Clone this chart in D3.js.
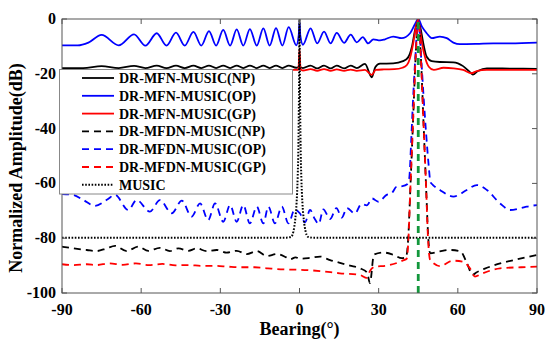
<!DOCTYPE html>
<html><head><meta charset="utf-8">
<script src="https://cdn.jsdelivr.net/npm/d3@7"></script>
<style>body{margin:0;background:#fff}svg{display:block}</style>
</head><body><svg id="c" width="550" height="343"></svg>
<script>
// ---- data (bearing in degrees, amplitude in dB) ----
const xTicks = [-90, -60, -30, 0, 30, 60, 90];
const yTicks = [0, -20, -40, -60, -80, -100];
const seriesNames = ["DR-MFN-MUSIC(NP)", "DR-MFN-MUSIC(OP)", "DR-MFN-MUSIC(GP)",
  "DR-MFDN-MUSIC(NP)", "DR-MFDN-MUSIC(OP)", "DR-MFDN-MUSIC(GP)", "MUSIC"];

const mfnNP = [[-90,-17.9],[-82,-17.9],[-75,-17.2],[-68.5,-17.9],[-62.7,-17.1],[-58.4,-17.9],[-54.1,-17.0],[-50.4,-17.9],
  [-46.8,-17.0],[-43.5,-17.9],[-40.2,-17.0],[-37.2,-17.9],[-34.3,-17.0],[-31.6,-17.9],[-28.9,-17.0],[-26.3,-17.9],
  [-23.8,-17.0],[-21.3,-17.9],[-18.8,-17.0],[-16.2,-17.9],[-13.7,-17.0],[-11.3,-17.9],[-8.9,-17.0],[-6.5,-17.9],
  [-4.1,-17.0],[-1.2,-17.8],[0,-17.5],[1.3,-17.9],[4.2,-17.0],[6.7,-18.0],[9.3,-17.0],[11.8,-18.0],[14.1,-17.0],
  [16.9,-18.0],[19.4,-17.0],[21.7,-17.9],[24.8,-16.4],[27.4,-21.3],[28.7,-17.6],[30.5,-16.3],[35.5,-16.2],
  [39.2,-15.4],[41.1,-14.1],[42.6,-10.1],[43.8,-4.0],[45,0],[45.8,-3],[46.9,-8.8],[48.2,-13.8],[50.1,-15.4],
  [53.2,-15.7],[58.3,-15.8],[62,-17.2],[64.6,-19.4],[65.7,-20.3],[67.6,-19.0],[71,-18.0],[80,-18.1],[90,-18.2]];

const mfnOP = [[-90,-9.6],[-84,-9.6],[-80,-8.6],[-75,-5.8],[-68.5,-9.6],[-62.7,-5.6],[-58.4,-9.7],[-54.1,-5.2],
  [-50.4,-9.7],[-46.8,-5.0],[-43.5,-9.7],[-40.2,-4.7],[-37.2,-9.7],[-34.3,-4.4],[-31.6,-9.7],[-28.9,-4.0],
  [-26.3,-9.7],[-23.8,-3.8],[-21.3,-9.7],[-18.8,-3.7],[-16.2,-9.7],[-13.7,-3.4],[-11.3,-9.7],[-8.9,-3.3],
  [-6.5,-9.7],[-4.1,-3.0],[-1.2,-9.6],[-0.3,-6],[0,-1],[0.3,-6],[1.3,-9.4],[4.2,-3.4],[6.7,-8.9],[9.3,-4.6],
  [11.8,-8.9],[14.1,-5.1],[16.9,-8.7],[19.4,-5.7],[21.7,-8.5],[24,-6.6],[26,-8.9],[28,-7.4],[30.5,-7.8],
  [32.4,-7.4],[35.5,-6.4],[38.7,-7.0],[41.9,-5.2],[43.8,-1.8],[45,0],[46.4,-2.8],[48.2,-5.2],[50.1,-7.0],
  [53.2,-6.4],[55.8,-7.0],[58.3,-8.6],[60.8,-9.2],[67,-9.1],[73.4,-8.9],[80,-8.9],[90,-8.6]];

const mfnGP = [[-90,-18.6],[-1,-18.6],[-0.4,-18.4],[0,-11],[0.4,-18.4],[1.3,-18.8],[4.2,-18.3],[6.7,-18.9],
  [9.3,-18.3],[11.8,-18.9],[14.1,-18.4],[16.9,-18.9],[19.4,-18.5],[21.7,-18.9],[24.8,-18.6],[27.4,-20.4],
  [28.9,-18.6],[32,-18.4],[36,-18.3],[39,-17.8],[40.7,-16.8],[41.8,-14.5],[42.6,-11.3],[43.1,-8.8],[44,-3.5],
  [45,0],[45.6,-3.5],[46.4,-8.8],[47.7,-14.4],[49,-17.4],[50.9,-18.6],[54.6,-17.8],[58.3,-18.0],[62,-18.6],
  [65.2,-19.8],[67.1,-19.0],[71,-18.6],[90,-18.6]];

const mfdnNP = [[-90,-83.1],[-85.7,-83.7],[-80.6,-84.3],[-76.9,-84.7],[-73.1,-83.7],[-69.9,-82.8],[-65.5,-84.7],
  [-61.1,-83.1],[-57.3,-84.6],[-52.9,-83.5],[-49.1,-84.7],[-45.9,-83.7],[-42.1,-84.6],[-39,-83.7],[-35.2,-84.7],
  [-31.4,-84.3],[-27.6,-85.3],[-23.8,-84.6],[-20,-85.8],[-16.2,-84.7],[-12.4,-86.5],[-8.6,-85.8],[-5,-87],
  [-3.6,-87.7],[-1.5,-87],[0.2,-87.5],[4,-87.2],[7.8,-86.7],[11.6,-88],[15.3,-89],[19.1,-90],[22.9,-91],
  [25.6,-92.5],[26.7,-96.4],[28.2,-86],[31.6,-85.2],[35.4,-86],[38.8,-87.3],[40.3,-87],[41.2,-80],[42,-62],
  [43,-38],[44,-14],[45,0],[46,-14],[47,-38],[48,-62],[48.8,-80],[49.5,-85.5],[53.2,-84.8],[57,-84.3],
  [61,-84.8],[63.4,-89],[65.6,-93.4],[67,-92.5],[70,-91.2],[75,-89.5],[82,-87.8],[90,-86.1]];

const mfdnOP = [[-90,-63.9],[-85.7,-64.2],[-82,-66],[-77.5,-68.2],[-73,-66],[-69.9,-64.2],[-64.9,-69.7],
  [-61.7,-66.1],[-56.7,-70.3],[-52.9,-66.1],[-48.4,-70.9],[-44.6,-66.3],[-40.9,-72.1],[-37.7,-67.3],
  [-34.6,-73.4],[-32,-67.3],[-28.9,-74],[-26.3,-67.9],[-23.8,-74],[-21.3,-67.9],[-18.8,-74.6],[-16.2,-68.5],
  [-13.7,-74.6],[-11.8,-68.5],[-9.3,-74.6],[-6.7,-68.5],[-4.2,-74.6],[-1.8,-69.5],[0.2,-71],[2.1,-74.2],
  [4.0,-69.7],[5.8,-73],[7.3,-74.8],[9,-69.5],[11.6,-73],[14,-69],[16,-72.5],[18,-69],[21,-71],[23.5,-67.5],
  [25.5,-68],[27.5,-65.5],[29.9,-66.7],[33,-64.2],[35,-63.5],[36.8,-61.2],[39,-61],[40.8,-60.3],[41.6,-58],
  [42.3,-45],[43,-30],[43.9,-14],[45,0],[46.1,-14],[47,-28],[48,-42],[49,-54],[49.6,-59.5],[50.5,-60.5],
  [53.2,-62.4],[58.3,-64.8],[63.4,-62.4],[67.2,-60.6],[71,-62.4],[76,-67.3],[79.8,-69.7],[84,-69],
  [86.1,-68.5],[90,-67.9]];

const mfdnGP = [[-90,-89.5],[-85.7,-89.8],[-80.6,-89.5],[-76.9,-89.8],[-72,-89.2],[-67,-89.7],[-62,-89.2],
  [-57,-89.8],[-52,-89.4],[-47,-89.9],[-42,-89.8],[-37,-90.1],[-32,-90.1],[-27,-90.4],[-22,-90.6],[-17,-90.6],
  [-12,-91],[-6,-91.4],[0,-91.5],[7.8,-92],[15.3,-92.8],[22.9,-93.4],[25.5,-94.5],[26.7,-92],[28.6,-90.4],
  [33,-90],[37,-89],[39.5,-88],[40.6,-87.5],[41.3,-80],[42,-62],[43,-38],[44,-14],[45,0],[46,-14],[47,-38],
  [48,-62],[48.7,-80],[49.5,-88],[50.6,-89],[53.2,-90.2],[58,-88.2],[62,-88.6],[64.6,-91],[66.5,-94],
  [69,-93],[76,-91],[84,-90.6],[90,-90.4]];

const music = [[-90,-79.8],[-5,-79.8],[-3.2,-79.5],[-2.3,-77.5],[-1.6,-73],[-1.1,-67],[-0.7,-58],[-0.4,-45],
  [-0.2,-28],[0,0],[0.2,-28],[0.4,-45],[0.7,-58],[1.1,-67],[1.6,-73],[2.3,-77.5],[3.2,-79.5],[5,-79.8],[90,-79.8]];

const trueBearing = [[45,-100],[45,0]];

// ---- drawing ----
const W = 550, H = 343;
const m = {l: 62, r: 537, t: 19, b: 293};
const svg = d3.select("#c");
const x = d3.scaleLinear().domain([-90, 90]).range([m.l, m.r]);
const y = d3.scaleLinear().domain([-100, 0]).range([m.b, m.t]);
const font = "'Liberation Serif','Times New Roman',serif";

svg.append("defs").append("clipPath").attr("id", "clip")
  .append("rect").attr("x", m.l).attr("y", m.t).attr("width", m.r - m.l).attr("height", m.b - m.t);

const styles = [
  {d: mfnNP, c: "#000", dash: null, w: 1.8},
  {d: mfnOP, c: "#0000ff", dash: null, w: 1.8},
  {d: mfnGP, c: "#ff0000", dash: null, w: 1.8},
  {d: mfdnNP, c: "#000", dash: "7,5", w: 1.8},
  {d: mfdnOP, c: "#0000ff", dash: "7,5", w: 1.8},
  {d: mfdnGP, c: "#ff0000", dash: "7,5", w: 1.8},
  {d: music, c: "#000", dash: "1.6,1.6", w: 2}
];

const line = d3.line().x(d => x(d[0])).y(d => y(d[1])).curve(d3.curveMonotoneX);
const g = svg.append("g").attr("clip-path", "url(#clip)");
styles.forEach(s => {
  g.append("path").attr("d", line(s.d)).attr("fill", "none").attr("stroke", s.c)
    .attr("stroke-width", s.w).attr("stroke-dasharray", s.dash);
});
g.append("path").attr("d", d3.line().x(d => x(d[0])).y(d => y(d[1]))(trueBearing))
  .attr("fill", "none").attr("stroke", "#13973c").attr("stroke-width", 2.8).attr("stroke-dasharray", "7,5");

// axes box and ticks
const axc = "#555";
svg.append("rect").attr("x", m.l).attr("y", m.t).attr("width", m.r - m.l).attr("height", m.b - m.t)
  .attr("fill", "none").attr("stroke", axc).attr("stroke-width", 1);
const tl = 5;
xTicks.forEach(t => {
  svg.append("line").attr("x1", x(t)).attr("x2", x(t)).attr("y1", m.b).attr("y2", m.b - tl).attr("stroke", axc);
  svg.append("line").attr("x1", x(t)).attr("x2", x(t)).attr("y1", m.t).attr("y2", m.t + tl).attr("stroke", axc);
  svg.append("text").attr("x", x(t)).attr("y", 315).attr("text-anchor", "middle")
    .attr("font-family", font).attr("font-weight", "bold").attr("font-size", 16).text(t);
});
yTicks.forEach(t => {
  svg.append("line").attr("x1", m.l).attr("x2", m.l + tl).attr("y1", y(t)).attr("y2", y(t)).attr("stroke", axc);
  svg.append("line").attr("x1", m.r).attr("x2", m.r - tl).attr("y1", y(t)).attr("y2", y(t)).attr("stroke", axc);
  svg.append("text").attr("x", 56).attr("y", y(t) + 5).attr("text-anchor", "end")
    .attr("font-family", font).attr("font-weight", "bold").attr("font-size", 16).text(t);
});

svg.append("text").attr("x", (m.l + m.r) / 2).attr("y", 335).attr("text-anchor", "middle")
  .attr("font-family", font).attr("font-weight", "bold").attr("font-size", 18).text("Bearing(°)");
svg.append("text").attr("transform", "translate(22,168) rotate(-90)").attr("text-anchor", "middle")
  .attr("font-family", font).attr("font-weight", "bold").attr("font-size", 18).text("Normalized Amplitude(dB)");

// legend
const lg = svg.append("g");
lg.append("rect").attr("x", 59.5).attr("y", 69.5).attr("width", 233).attr("height", 124.5)
  .attr("fill", "#fff").attr("stroke", "#888").attr("stroke-width", 1);
seriesNames.forEach((n, i) => {
  const cy = 78 + i * 17.8;
  const s = styles[i];
  lg.append("line").attr("x1", 82).attr("x2", 114).attr("y1", cy).attr("y2", cy)
    .attr("stroke", s.c).attr("stroke-width", s.w).attr("stroke-dasharray", s.dash);
  lg.append("text").attr("x", 119).attr("y", cy + 5).attr("font-family", font).attr("font-weight", "bold")
    .attr("font-size", 14).text(n);
});
</script></body></html>
